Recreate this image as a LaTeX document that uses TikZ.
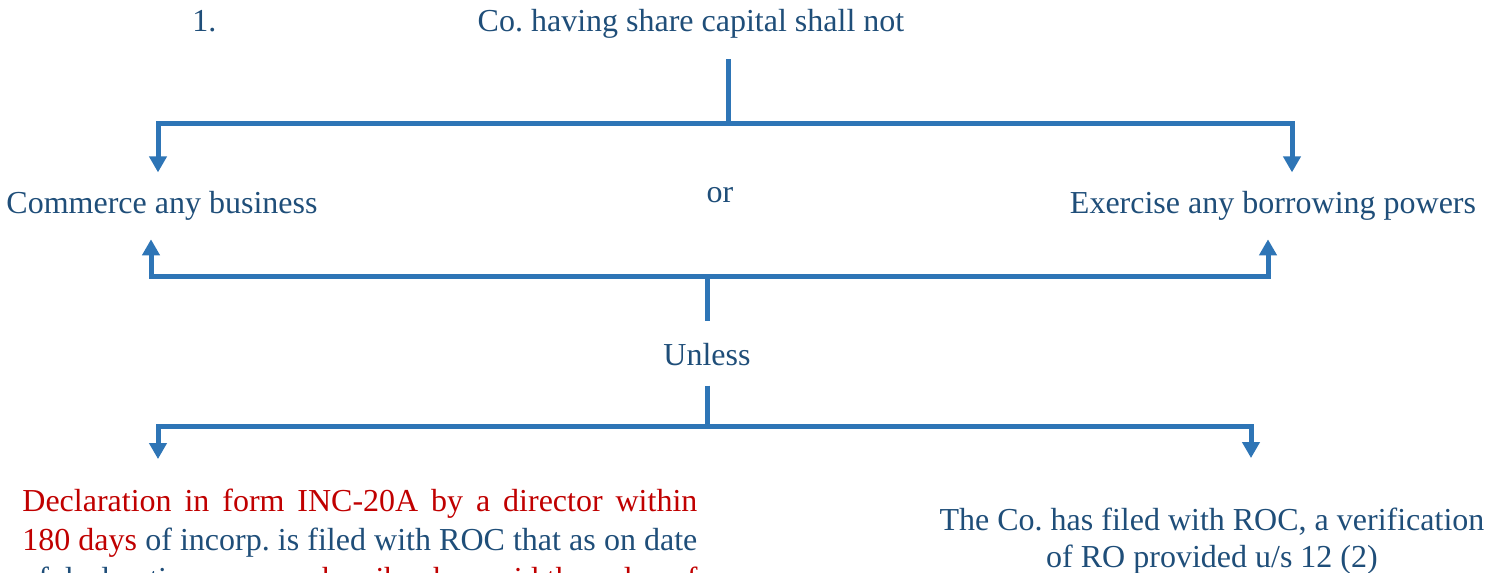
\documentclass[tikz,border=0pt]{standalone}
\usepackage{fontspec}
\setmainfont{Liberation Serif}
\usetikzlibrary{arrows.meta}
\definecolor{txtblue}{HTML}{1F4E79}
\definecolor{linblue}{HTML}{2E75B6}
\definecolor{decred}{HTML}{C00000}

\begin{document}
\frenchspacing
\begin{tikzpicture}[x=0.5pt,y=-0.5pt,
	txt/.style={inner sep=0pt,text=txtblue,font=\fontsize{16}{19.5}\selectfont},
	brk/.style={draw=linblue,line width=2.5pt},
	twotips/.style={{Triangle[width=8.5pt,length=8pt]}-{Triangle[width=8.5pt,length=8pt]}}]
	\useasboundingbox (0,0) rectangle (1496,573);
	\clip (0,0) rectangle (1496,573);
	% texts
	\node[txt,anchor=base west] (num) at (192,32) {1.};
	\node[txt,anchor=base] (head) at (691,32) {Co. having share capital shall not};
	\node[txt,anchor=base] (commerce) at (162,213) {Commerce any business};
	\node[txt,anchor=base] (orword) at (720,202) {or};
	\node[txt,anchor=base] (exercise) at (1273,213) {Exercise any borrowing powers};
	\node[txt,anchor=base] (unless) at (707,365) {Unless};
	\node[txt,anchor=base west,text width=337.5pt,align=justify] (decl) at (22,511)
		{\parfillskip=0pt \textcolor{decred}{Declaration in form INC-20A by a director within\linebreak 180 days} of incorp. is filed with ROC that as on date\linebreak of declaration, \textcolor{decred}{every subscriber has paid the value of}};
	\node[txt,font=\fontsize{16}{18.5}\selectfont,anchor=base,text width=330pt,align=flush center] (verif) at (1212,530)
		{The Co. has filed with ROC, a verification\\ of RO provided u/s 12 (2)};
	% brackets
	\coordinate (tj) at (728,123);
	\coordinate (tl) at (158,123);
	\coordinate (tr) at (1292,123);
	\coordinate (mj) at (707,276);
	\coordinate (ml) at (151,276);
	\coordinate (mr) at (1268,276);
	\coordinate (bj) at (707,426);
	\coordinate (bl) at (158,426);
	\coordinate (br) at (1251,426);
	\draw[brk,shorten <=10pt] (head.south -| tj) -- (tj);
	\draw[brk,twotips,shorten <=9pt,shorten >=9pt] (commerce.north -| tl) -- (tl) -- (tr) -- (exercise.north -| tr);
	\draw[brk,twotips,shorten <=9.5pt,shorten >=9.5pt] (commerce.south -| ml) -- (ml) -- (mr) -- (exercise.south -| mr);
	\draw[brk,shorten >=10.5pt] (mj) -- (unless.north);
	\draw[brk,shorten <=10pt] (unless.south) -- (bj);
	\draw[brk,twotips,shorten <=14.5pt,shorten >=24.5pt] (decl.north -| bl) -- (bl) -- (br) -- (verif.north -| br);
\end{tikzpicture}
\end{document}
